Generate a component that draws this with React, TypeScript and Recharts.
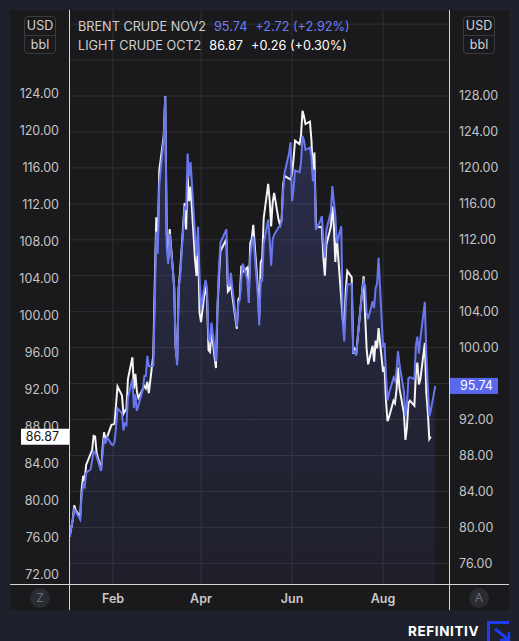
import { Area, CartesianGrid, ComposedChart, Line, XAxis, YAxis } from "recharts";

// trading days of 2022 (MM-DD)
const tradingDays = [
  "01-03", "01-04", "01-05", "01-06", "01-07", "01-10", "01-11", "01-12", "01-13", "01-14", "01-17",
  "01-18", "01-19", "01-20", "01-21", "01-24", "01-25", "01-26", "01-27", "01-28", "01-31",
  "02-01", "02-02", "02-03", "02-04", "02-07", "02-08", "02-09", "02-10", "02-11", "02-14",
  "02-15", "02-16", "02-17", "02-18", "02-21", "02-22", "02-23", "02-24", "02-25", "02-28",
  "03-01", "03-02", "03-03", "03-04", "03-07", "03-08", "03-09", "03-10", "03-11", "03-14", "03-15",
  "03-16", "03-17", "03-18", "03-21", "03-22", "03-23", "03-24", "03-25", "03-28", "03-29", "03-30", "03-31",
  "04-01", "04-04", "04-05", "04-06", "04-07", "04-08", "04-11", "04-12", "04-13", "04-14",
  "04-18", "04-19", "04-20", "04-21", "04-22", "04-25", "04-26", "04-27", "04-28", "04-29",
  "05-02", "05-03", "05-04", "05-05", "05-06", "05-09", "05-10", "05-11", "05-12", "05-13", "05-16",
  "05-17", "05-18", "05-19", "05-20", "05-23", "05-24", "05-25", "05-26", "05-27", "05-30", "05-31",
  "06-01", "06-02", "06-03", "06-06", "06-07", "06-08", "06-09", "06-10", "06-13", "06-14", "06-15",
  "06-16", "06-17", "06-20", "06-21", "06-22", "06-23", "06-24", "06-27", "06-28", "06-29", "06-30",
  "07-01", "07-04", "07-05", "07-06", "07-07", "07-08", "07-11", "07-12", "07-13", "07-14", "07-15",
  "07-18", "07-19", "07-20", "07-21", "07-22", "07-25", "07-26", "07-27", "07-28", "07-29",
  "08-01", "08-02", "08-03", "08-04", "08-05", "08-08", "08-09", "08-10", "08-11", "08-12", "08-15", "08-16",
  "08-17", "08-18", "08-19", "08-22", "08-23", "08-24", "08-25", "08-26", "08-29", "08-30", "08-31",
  "09-01", "09-02", "09-05",
];

// Brent crude (right axis)
const brent = [
  78.98, 80.0, 80.8, 81.99, 81.75, 80.87, 83.72, 84.67, 84.47, 86.06, 86.48,
  87.51, 88.44, 88.38, 87.89, 86.27, 88.2, 89.96, 89.34, 90.03, 89.26,
  89.16, 89.47, 91.11, 93.27, 92.69, 90.78, 91.55, 91.41, 94.44, 96.48,
  93.28, 94.81, 92.97, 93.54, 95.39, 96.84, 96.84, 99.08, 97.93, 97.97,
  104.97, 112.93, 110.46, 118.11, 123.21, 127.98, 111.14, 109.33, 112.67, 106.9, 99.91,
  98.02, 106.64, 107.93, 115.62, 115.48, 121.6, 119.03, 120.65, 112.48, 110.23, 113.45, 107.91,
  104.39, 107.53, 106.64, 101.07, 100.58, 102.78, 98.48, 104.64, 108.78, 111.7,
  113.16, 107.25, 106.8, 108.33, 106.65, 102.32, 104.99, 105.32, 107.59, 109.34,
  107.58, 104.97, 110.14, 111.55, 112.39, 105.94, 102.46, 107.51, 107.45, 111.55, 114.24,
  111.93, 109.11, 112.04, 112.55, 113.42, 113.56, 114.03, 117.4, 119.43, 121.67, 122.84,
  116.29, 117.61, 119.72, 119.51, 120.57, 123.58, 123.07, 122.01, 122.27, 121.17, 118.51,
  119.81, 113.12, 114.13, 114.65, 111.74, 110.05, 113.12, 115.09, 117.98, 116.26, 114.81,
  111.63, 113.5, 102.77, 100.69, 104.65, 107.02, 107.1, 99.49, 99.57, 99.1, 101.16,
  106.27, 107.35, 106.92, 103.86, 103.2, 105.15, 104.4, 106.62, 107.14, 110.01,
  100.03, 100.54, 96.78, 94.12, 94.92, 96.65, 96.31, 97.4, 99.6, 98.15, 95.1, 92.34,
  93.65, 96.59, 96.72, 96.48, 100.22, 101.22, 99.34, 100.99, 105.09, 99.31, 95.64,
  92.36, 93.02, 95.74,
];

// Light crude / WTI (left axis), null where it did not settle
const wti = [
  76.08, 76.99, 77.85, 79.46, 78.9, 78.23, 81.22, 82.64, 82.12, 83.82, null,
  85.43, 86.96, 86.9, 85.14, 83.31, 85.6, 87.35, 86.61, 86.82, 88.15,
  88.2, 88.26, 90.27, 92.31, 91.32, 89.36, 89.66, 89.88, 93.1, 95.46,
  92.07, 93.66, 91.76, 91.07, null, 92.35, 92.1, 92.81, 91.59, 95.72,
  103.41, 110.6, 107.67, 115.68, 119.4, 123.7, 108.7, 106.02, 109.33, 103.01, 96.44,
  95.04, 102.98, 104.7, 112.12, 109.27, 114.93, 112.34, 113.9, 105.96, 104.24, 107.82, 100.28,
  99.27, 103.28, 101.96, 96.23, 96.03, 98.26, 94.29, 100.6, 104.25, 106.95,
  108.21, 102.56, 102.75, 103.79, 102.07, 98.54, 101.7, 102.02, 105.36, 104.69,
  105.17, 102.41, 107.81, 108.26, 109.77, 103.09, 99.76, 105.71, 106.13, 110.49, 114.2,
  112.4, 109.59, 112.21, 113.23, 110.29, 109.77, 110.33, 114.09, 115.07, null, 114.67,
  115.26, 116.87, 118.87, 118.5, 119.41, 122.11, 121.51, 120.67, 120.93, 118.93, 115.31,
  117.59, 109.56, null, 109.52, 106.19, 104.27, 107.62, 109.57, 111.76, 109.78, 105.76,
  108.43, null, 99.5, 98.53, 102.73, 104.79, 104.09, 95.84, 96.3, 95.78, 97.59,
  102.6, 104.22, 99.88, 96.35, 94.7, 96.7, 94.98, 97.26, 96.42, 98.62,
  93.89, 94.42, 90.66, 88.54, 89.01, 90.76, 90.5, 91.93, 94.34, 92.09, 89.41, 86.53,
  87.85, 90.5, 90.77, 90.23, 93.74, 94.89, 92.52, 93.06, 97.01, 91.64, 89.55,
  86.61, 86.87, null,
];

const monthTicks = ["02-01", "04-01", "06-01", "08-01"];
const monthLabels = ["Feb", "Apr", "Jun", "Aug"];
const leftTicks = [72, 76, 80, 84, 88, 92, 96, 100, 104, 108, 112, 116, 120, 124];
const rightTicks = [76, 80, 84, 88, 92, 96, 100, 104, 108, 112, 116, 120, 124, 128];
const gridValues = [76, 80, 84, 88, 92, 96, 100, 104, 108, 112, 116, 120, 124, 128, 132, 136];

const brentLast = 95.74;
const wtiLast = 86.87;

const dayOfYear = (mmdd: string) => {
  const [m, d] = mmdd.split("-").map(Number);
  return (Date.UTC(2022, m - 1, d) - Date.UTC(2022, 0, 1)) / 86400000;
};

const data = tradingDays.map((day, i) => ({ d: dayOfYear(day), brent: brent[i], wti: wti[i] }));
const monthDays = monthTicks.map(dayOfYear);

const FONT = "Inter, 'Noto Sans', sans-serif";
const LINE = "#d6d6d8";
const BLUE = "#6a76ee";

const LeftTick = (props: any) => {
  const { x, y, payload } = props;
  const v = payload.value as number;
  if (v === wtiLast) {
    return (
      <g>
        <rect x={x - 48} y={y - 8} width={48} height={16} fill="#ffffff" />
        <text x={x - 10} y={y} dy={4.3} textAnchor="end" fill="#111" fontSize={12.5} fontFamily={FONT}>
          {v.toFixed(2)}
        </text>
      </g>
    );
  }
  return (
    <text x={x - 10} y={y} dy={4.3} textAnchor="end" fill="#c4c4c6" fontSize={12.5} fontFamily={FONT}>
      {v.toFixed(2)}
    </text>
  );
};

const RightTick = (props: any) => {
  const { x, y, payload } = props;
  const v = payload.value as number;
  if (v === brentLast) {
    return (
      <g>
        <rect x={x} y={y - 8} width={49} height={16} fill="#5a68ee" />
        <text x={x + 11} y={y} dy={4.3} textAnchor="start" fill="#ffffff" fontSize={12.5} fontFamily={FONT}>
          {v.toFixed(2)}
        </text>
      </g>
    );
  }
  return (
    <text x={x + 10} y={y} dy={4.3} textAnchor="start" fill="#c4c4c6" fontSize={12.5} fontFamily={FONT}>
      {v.toFixed(2)}
    </text>
  );
};

const MonthTick = (props: any) => {
  const { x, y, payload } = props;
  const idx = monthDays.indexOf(payload.value);
  return (
    <text x={x} y={y + 19} textAnchor="middle" fill="#c8c8ca" fontSize={12.5} fontWeight={600} fontFamily={FONT}>
      {monthLabels[idx]}
    </text>
  );
};

const UnitBox = ({ left }: { left: number }) => (
  <div
    style={{
      position: "absolute",
      left,
      top: 16,
      width: 30,
      height: 36,
      border: "1px solid #3a3a3e",
      borderRadius: 4,
      color: "#d2d2d4",
      fontSize: 12.5,
      textAlign: "center",
      lineHeight: "18px",
    }}
  >
    <div style={{ borderBottom: "1px solid #3a3a3e", height: 18 }}>USD</div>
    <div>bbl</div>
  </div>
);

const Circle = ({ left, label }: { left: number; label: string }) => (
  <div
    style={{
      position: "absolute",
      left: left - 10,
      top: 588,
      width: 20,
      height: 20,
      borderRadius: 10,
      background: "#2a2c33",
      color: "#6c6e76",
      fontSize: 12,
      lineHeight: "20px",
      textAlign: "center",
    }}
  >
    {label}
  </div>
);

export default function App() {
  return (
    <div
      style={{
        position: "absolute",
        left: 0,
        top: 0,
        width: 519,
        height: 641,
        background: "#1e212b",
        fontFamily: FONT,
        overflow: "hidden",
      }}
    >
      <div style={{ position: "absolute", left: 10, top: 10, width: 499, height: 600, background: "#1a1a1c" }}>
        <ComposedChart width={499} height={600} data={data} margin={{ top: 0, right: 0, bottom: 0, left: 0 }}>
          <defs>
            <linearGradient id="brentFill" x1="0" y1="0" x2="0" y2="1">
              <stop offset="0%" stopColor="#5b66d6" stopOpacity={0.28} />
              <stop offset="100%" stopColor="#4a52a8" stopOpacity={0.1} />
            </linearGradient>
          </defs>
          <CartesianGrid
            yAxisId="right"
            stroke="#313134"
            horizontalValues={gridValues}
            verticalValues={monthDays}
          />
          <XAxis
            dataKey="d"
            type="number"
            domain={[1.5, 256.2]}
            allowDataOverflow
            ticks={monthDays}
            interval={0}
            height={26}
            tickSize={0}
            tickMargin={0}
            tickLine={false}
            axisLine={false}
            tick={<MonthTick />}
          />
          <YAxis
            yAxisId="left"
            orientation="left"
            type="number"
            domain={[70.95, 133.0]}
            allowDataOverflow
            ticks={[...leftTicks, wtiLast]}
            interval={0}
            width={59}
            tickSize={0}
            tickMargin={0}
            tickLine={false}
            axisLine={false}
            tick={<LeftTick />}
          />
          <YAxis
            yAxisId="right"
            orientation="right"
            type="number"
            domain={[73.7, 137.57]}
            allowDataOverflow
            ticks={[...rightTicks, brentLast]}
            interval={0}
            width={60}
            tickSize={0}
            tickMargin={0}
            tickLine={false}
            axisLine={false}
            tick={<RightTick />}
          />
          <Area
            yAxisId="right"
            dataKey="brent"
            type="linear"
            stroke="none"
            fill="url(#brentFill)"
            fillOpacity={1}
            isAnimationActive={false}
          />
          <Line
            yAxisId="left"
            dataKey="wti"
            type="linear"
            stroke="#f4f4f6"
            strokeWidth={2}
            dot={false}
            connectNulls
            isAnimationActive={false}
          />
          <Line
            yAxisId="right"
            dataKey="brent"
            type="linear"
            stroke={BLUE}
            strokeWidth={2}
            dot={false}
            isAnimationActive={false}
          />
        </ComposedChart>
      </div>

      {/* panel separators */}
      <div style={{ position: "absolute", left: 69, top: 10, width: 1, height: 600, background: LINE }} />
      <div style={{ position: "absolute", left: 449, top: 10, width: 1, height: 600, background: LINE }} />
      <div style={{ position: "absolute", left: 10, top: 584, width: 499, height: 1, background: LINE }} />

      <UnitBox left={24} />
      <UnitBox left={463} />

      <div style={{ position: "absolute", left: 78, top: 16.5, fontSize: 12.7, lineHeight: "19px", whiteSpace: "nowrap" }}>
        <div>
          <span style={{ color: "#d0d0d2" }}>BRENT CRUDE NOV2</span>
          <span style={{ color: "#6f7cf0", marginLeft: 8 }}>95.74</span>
          <span style={{ color: "#6f7cf0", marginLeft: 8 }}>+2.72 (+2.92%)</span>
        </div>
        <div>
          <span style={{ color: "#d0d0d2" }}>LIGHT CRUDE OCT2</span>
          <span style={{ color: "#ffffff", marginLeft: 8 }}>86.87</span>
          <span style={{ color: "#ffffff", marginLeft: 8 }}>+0.26 (+0.30%)</span>
        </div>
      </div>

      <Circle left={40} label="Z" />
      <Circle left={479} label="A" />

      <div
        style={{
          position: "absolute",
          left: 408,
          top: 622,
          color: "#ffffff",
          fontSize: 13.5,
          fontWeight: 700,
          letterSpacing: 0.6,
          lineHeight: "18px",
        }}
      >
        REFINITIV
      </div>
      <svg style={{ position: "absolute", left: 0, top: 0 }} width={519} height={641}>
        <path d="M488.5 641 V622.5 H509" fill="none" stroke="#1e3cf2" strokeWidth={3} />
        <path d="M495 629 L509 640" fill="none" stroke="#1e3cf2" strokeWidth={3} />
        <path d="M500 640 H509 V632" fill="none" stroke="#1e3cf2" strokeWidth={2.5} />
      </svg>
    </div>
  );
}
